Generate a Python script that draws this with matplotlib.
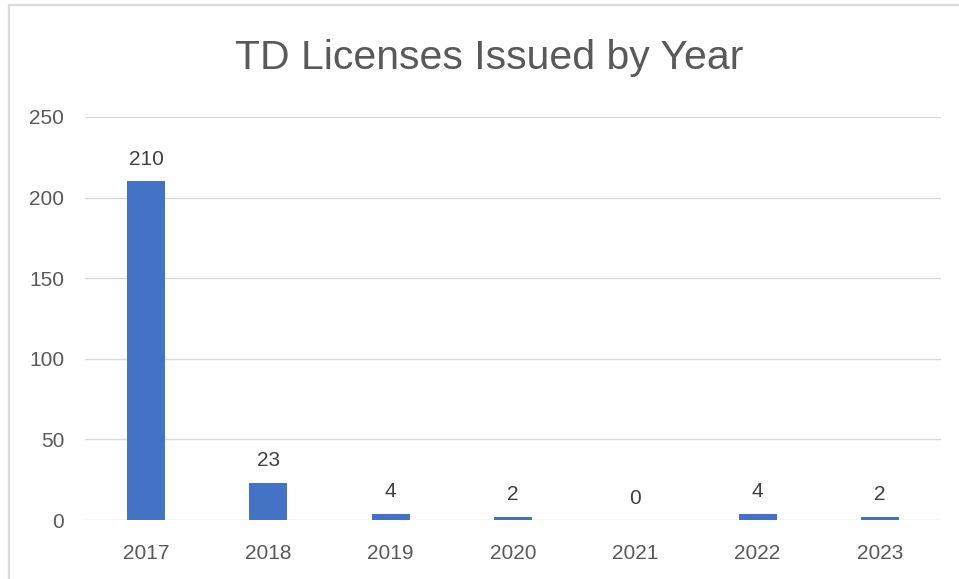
import matplotlib.pyplot as plt
from matplotlib.lines import Line2D

years = ["2017", "2018", "2019", "2020", "2021", "2022", "2023"]
licenses = [210, 23, 4, 2, 0, 4, 2]
y_ticks = [0, 50, 100, 150, 200, 250]

plt.rcParams['font.family'] = ['Liberation Sans', 'DejaVu Sans']

fig = plt.figure(figsize=(9.59, 5.79), dpi=100)
ax = fig.add_axes([85 / 959, 1 - 520 / 579, 856 / 959, 403 / 579])

x = range(len(years))
bars = ax.bar(x, licenses, width=0.31, color="#4472C4", zorder=3)

for xi, v in zip(x, licenses):
    ax.annotate(str(v), (xi, v), xytext=(0, 9), textcoords="offset points",
                ha="center", va="bottom", fontsize=15, color="#404040")

ax.set_xlim(-0.5, len(years) - 0.5)
ax.set_ylim(0, 250)
ax.set_yticks(y_ticks)
ax.set_xticks(list(x))
ax.set_xticklabels(years)
ax.grid(axis="y", color="#D9D9D9", linewidth=1.0, zorder=0)
for s in ax.spines.values():
    s.set_visible(False)
ax.tick_params(axis="both", length=0, labelsize=15, colors="#595959")
ax.tick_params(axis="y", pad=15)
ax.tick_params(axis="x", pad=17)

fig.text(489 / 959, 1 - 58 / 579, "TD Licenses Issued by Year", ha="center",
         va="center", fontsize=29.5, color="#595959")

# chart frame (left and top edges visible)
fig.add_artist(Line2D([8.5 / 959, 8.5 / 959], [0, 1 - 5 / 579], color="#D9D9D9", linewidth=1.6))
fig.add_artist(Line2D([8.5 / 959, 1], [1 - 5 / 579, 1 - 5 / 579], color="#D9D9D9", linewidth=1.6))

fig.savefig("out.png", dpi=100)
